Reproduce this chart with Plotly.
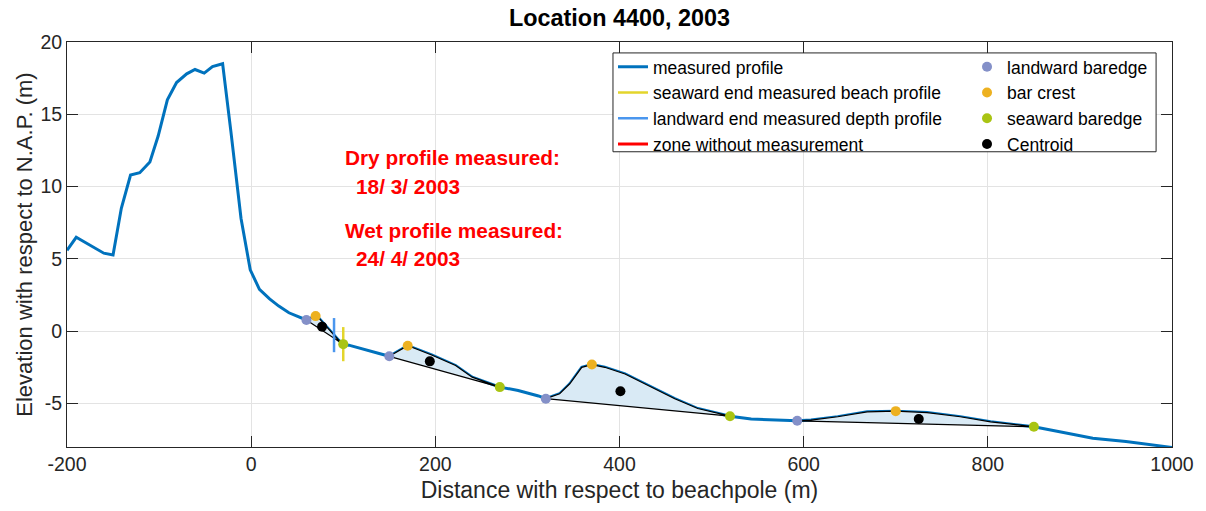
import numpy as np
import plotly.graph_objects as go

# Cross-shore profile: distance from beachpole (m) and elevation w.r.t. N.A.P. (m)
dist = [-200, -190, -160, -150, -141, -131, -121, -110, -101, -91, -81, -70, -61, -51, -42, -31,
        -22, -11, -1, 9, 20, 30, 41, 60, 70, 74, 95, 100, 106, 150, 170, 178, 196, 222, 240,
        270, 290, 312, 320, 335, 346, 359, 370, 384, 406, 431, 460, 485, 520, 543, 593, 608,
        637, 669, 700, 734, 770, 803, 850, 878, 914, 950, 1000]
elev = [5.6, 6.5, 5.4, 5.27, 8.5, 10.8, 10.96, 11.7, 13.5, 16.0, 17.2, 17.8, 18.1, 17.85, 18.3, 18.5,
        13.8, 7.8, 4.25, 2.9, 2.24, 1.74, 1.28, 0.78, 1.05, 0.87, -0.62, -0.89, -0.96, -1.73, -1.0,
        -1.19, -1.64, -2.37, -3.17, -3.86, -4.09, -4.47, -4.66, -4.32, -3.63, -2.49, -2.3, -2.49,
        -2.95, -3.74, -4.66, -5.34, -5.87, -6.07, -6.19, -6.14, -5.91, -5.57, -5.52, -5.62, -5.91,
        -6.26, -6.6, -6.94, -7.4, -7.62, -8.03]

# Bar characteristics
landward_x = [60, 150, 320, 593]
landward_y = [0.78, -1.73, -4.66, -6.19]
crest_x = [70, 170, 370, 700]
crest_y = [1.05, -1.0, -2.3, -5.52]
seaward_x = [100, 270, 520, 850]
seaward_y = [-0.89, -3.86, -5.87, -6.6]
centroid_x = [77, 194, 401, 725]
centroid_y = [0.32, -2.08, -4.15, -6.07]

# Ends of the dry (beach) and wet (depth) surveys
beach_end_x = 100
depth_start_x = 90
end_marker_half = 1.18

x_ticks = [-200, 0, 200, 400, 600, 800, 1000]
x_labels = ["-200", "0", "200", "400", "600", "800", "1000"]
y_ticks = [-5, 0, 5, 10, 15, 20]
y_labels = ["-5", "0", "5", "10", "15", "20"]

FONT = "Liberation Sans, Arial, Helvetica, sans-serif"
AX = "#262626"

d = np.array(dist, dtype=float)
e = np.array(elev, dtype=float)

fig = go.Figure()

fig.add_trace(go.Scatter(x=dist, y=elev, mode="lines", name="measured profile",
                         line=dict(color="#0072BD", width=3), legend="legend"))

# Bar areas between the profile and the baredge chord
for lx, sx in zip(landward_x, seaward_x):
    m = (d >= lx) & (d <= sx)
    px = list(d[m]) + [lx]
    py = list(e[m]) + [float(np.interp(lx, d, e))]
    fig.add_trace(go.Scatter(x=px, y=py, mode="lines", fill="toself",
                             fillcolor="#D9EAF5", line=dict(color="black", width=1.2),
                             showlegend=False, hoverinfo="skip"))

yb = float(np.interp(beach_end_x, d, e))
fig.add_trace(go.Scatter(x=[beach_end_x, beach_end_x],
                         y=[yb - end_marker_half, yb + end_marker_half],
                         mode="lines", name="seaward end measured beach profile",
                         line=dict(color="#E3D52B", width=2.5), legend="legend"))
yd = float(np.interp(depth_start_x, d, e))
fig.add_trace(go.Scatter(x=[depth_start_x, depth_start_x],
                         y=[yd - end_marker_half, yd + end_marker_half],
                         mode="lines", name="landward end measured depth profile",
                         line=dict(color="#4A96EE", width=2.5), legend="legend"))
fig.add_trace(go.Scatter(x=[None], y=[None], mode="lines", name="zone without measurement",
                         line=dict(color="#FF0000", width=3), legend="legend"))

fig.add_trace(go.Scatter(x=landward_x, y=landward_y, mode="markers", name="landward baredge",
                         marker=dict(color="#8490C8", size=10), legend="legend2"))
fig.add_trace(go.Scatter(x=crest_x, y=crest_y, mode="markers", name="bar crest",
                         marker=dict(color="#EDB120", size=10), legend="legend2"))
fig.add_trace(go.Scatter(x=seaward_x, y=seaward_y, mode="markers", name="seaward baredge",
                         marker=dict(color="#A9C413", size=10), legend="legend2"))
fig.add_trace(go.Scatter(x=centroid_x, y=centroid_y, mode="markers", name="Centroid",
                         marker=dict(color="black", size=10), legend="legend2"))

notes = [(100, 12, "Dry profile measured:"), (112, 10, "18/ 3/ 2003"),
         (100, 7, "Wet profile measured:"), (112, 5, "24/ 4/ 2003")]
for nx, ny, txt in notes:
    fig.add_annotation(x=nx, y=ny, text="<b>%s</b>" % txt, showarrow=False,
                       xanchor="left", yanchor="middle",
                       font=dict(family=FONT, size=20.8, color="#FF0000"))

axis_common = dict(showline=True, linecolor=AX, linewidth=1, mirror="allticks",
                   ticks="inside", ticklen=11, tickcolor=AX, showgrid=True,
                   gridcolor="#E3E3E3", gridwidth=1, zeroline=False,
                   tickfont=dict(family=FONT, size=19.5, color=AX))

fig.update_xaxes(range=[-200, 1000], tickvals=x_ticks, ticktext=x_labels,
                 title=dict(text="Distance with respect to beachpole (m)",
                            font=dict(family=FONT, size=23, color=AX), standoff=7),
                 **axis_common)
fig.update_yaxes(range=[-8, 20], tickvals=y_ticks, ticktext=y_labels,
                 title=dict(text="Elevation with respect to N.A.P. (m)",
                            font=dict(family=FONT, size=22, color=AX), standoff=1),
                 **axis_common)

legend_style = dict(bgcolor="rgba(0,0,0,0)", borderwidth=0, xanchor="left", yanchor="top",
                    font=dict(family=FONT, size=17.5, color="black"), itemwidth=30,
                    tracegroupgap=0)
fig.update_layout(
    width=1206, height=511,
    margin=dict(l=67, r=30, t=42, b=63),
    paper_bgcolor="white", plot_bgcolor="white",
    title=dict(text="<b>Location 4400, 2003</b>", x=0.5, xref="paper", y=1 - 18 / 511,
               yanchor="middle", font=dict(family=FONT, size=23.4, color="black")),
    legend=dict(x=0.4941, y=0.983, **legend_style),
    legend2=dict(x=0.8145, y=0.983, **legend_style),
    shapes=[dict(type="rect", xref="paper", yref="paper", x0=0.4941, x1=0.9856,
                 y0=0.729, y1=0.973, fillcolor="white", line=dict(color=AX, width=1),
                 layer="above")],
    showlegend=True,
)

fig.write_html("out.html")
